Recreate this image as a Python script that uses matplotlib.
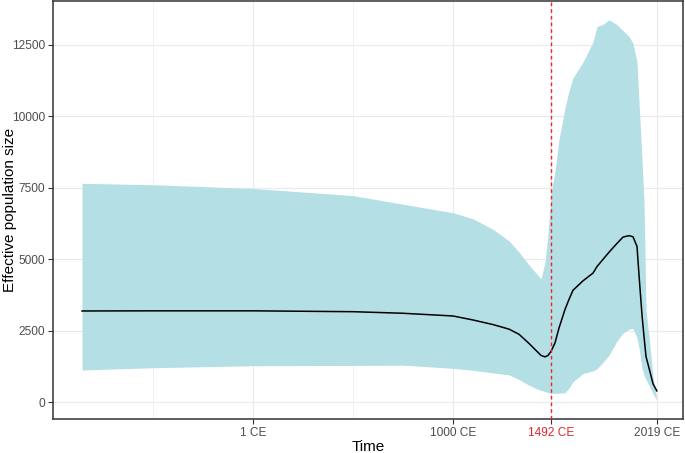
import matplotlib
matplotlib.use("Agg")
import matplotlib.pyplot as plt

plt.rcParams['font.family'] = ['Liberation Sans', 'DejaVu Sans']

# years (CE) on a shared grid
years = [-855, -500, 0, 500, 750, 1000, 1100, 1200, 1280, 1330, 1380, 1420, 1440,
         1460, 1475, 1490, 1510, 1530, 1560, 1580, 1600, 1650, 1700, 1720, 1750,
         1780, 1820, 1850, 1880, 1900, 1920, 1930, 1945, 1955, 1965, 1980, 2000, 2019]
upper = [7660, 7610, 7480, 7230, 6930, 6630, 6420, 6050, 5650, 5250, 4800, 4480, 4320,
         4900, 5900, 7300, 8100, 9200, 10300, 10900, 11350, 11900, 12600, 13150, 13220,
         13380, 13210, 13000, 12800, 12550, 11900, 10500, 8500, 7000, 3200, 2300, 900, 100]
lower = [1130, 1210, 1280, 1290, 1300, 1190, 1120, 1030, 960, 800, 600, 470, 420,
         375, 340, 318, 315, 320, 340, 500, 720, 1010, 1100, 1170, 1400,
         1650, 2150, 2420, 2560, 2580, 2250, 1900, 1200, 950, 800, 600, 300, 80]
median = [3195, 3200, 3200, 3170, 3115, 3020, 2880, 2720, 2560, 2380, 2060, 1780, 1640,
          1590, 1640, 1780, 2080, 2600, 3250, 3600, 3920, 4250, 4520, 4750, 5000,
          5250, 5560, 5780, 5830, 5790, 5450, 4450, 3050, 2300, 1600, 1200, 650, 400]

tick_years = [1, 1000, 1492, 2019]
tick_labels = ["1 CE", "1000 CE", "1492 CE", "2019 CE"]
minor_years = [-500, 500]
y_ticks = [0, 2500, 5000, 7500, 10000, 12500]
event_year = 1492

fig = plt.figure(figsize=(6.85, 4.53), dpi=100)
ax = fig.add_axes([0.0774, 0.075, 0.9197, 0.923])

ax.fill_between(years, lower, upper, color="#b3dfe5", linewidth=0, zorder=2)
ax.plot(years, median, color="black", linewidth=1.1, zorder=3)
ax.axvline(event_year, color="#e8262b", linewidth=1.0, linestyle=(0, (2.6, 2.2)), zorder=4)

ax.set_xlim(-1000, 2150)
ax.set_ylim(-584, 14040)

ax.set_xticks(tick_years)
ax.set_xticklabels(tick_labels)
ax.set_xticks(minor_years, minor=True)
ax.set_yticks(y_ticks)

ax.grid(True, which="major", color="#ebebeb", linewidth=0.8, zorder=0)
ax.grid(True, which="minor", axis="x", color="#ebebeb", linewidth=0.5, zorder=0)
ax.set_axisbelow(True)
ax.tick_params(axis="x", which="minor", length=0)

ax.tick_params(axis="both", which="major", length=3.5, width=0.8, color="#333333",
               labelsize=8.6, labelcolor="#4d4d4d", pad=2.5)
for lab in ax.get_xticklabels():
    if lab.get_text() == "1492 CE":
        lab.set_color("#e3262a")

for sp in ax.spines.values():
    sp.set_color("#333333")
    sp.set_linewidth(1.1)

ax.set_xlabel("Time", fontsize=11, va="center")
ax.set_ylabel("Effective population size", fontsize=11, va="center")
ax.xaxis.set_label_coords(0.5, -0.066)
ax.yaxis.set_label_coords(-0.069, 0.5)

fig.savefig("out.png", dpi=100)
